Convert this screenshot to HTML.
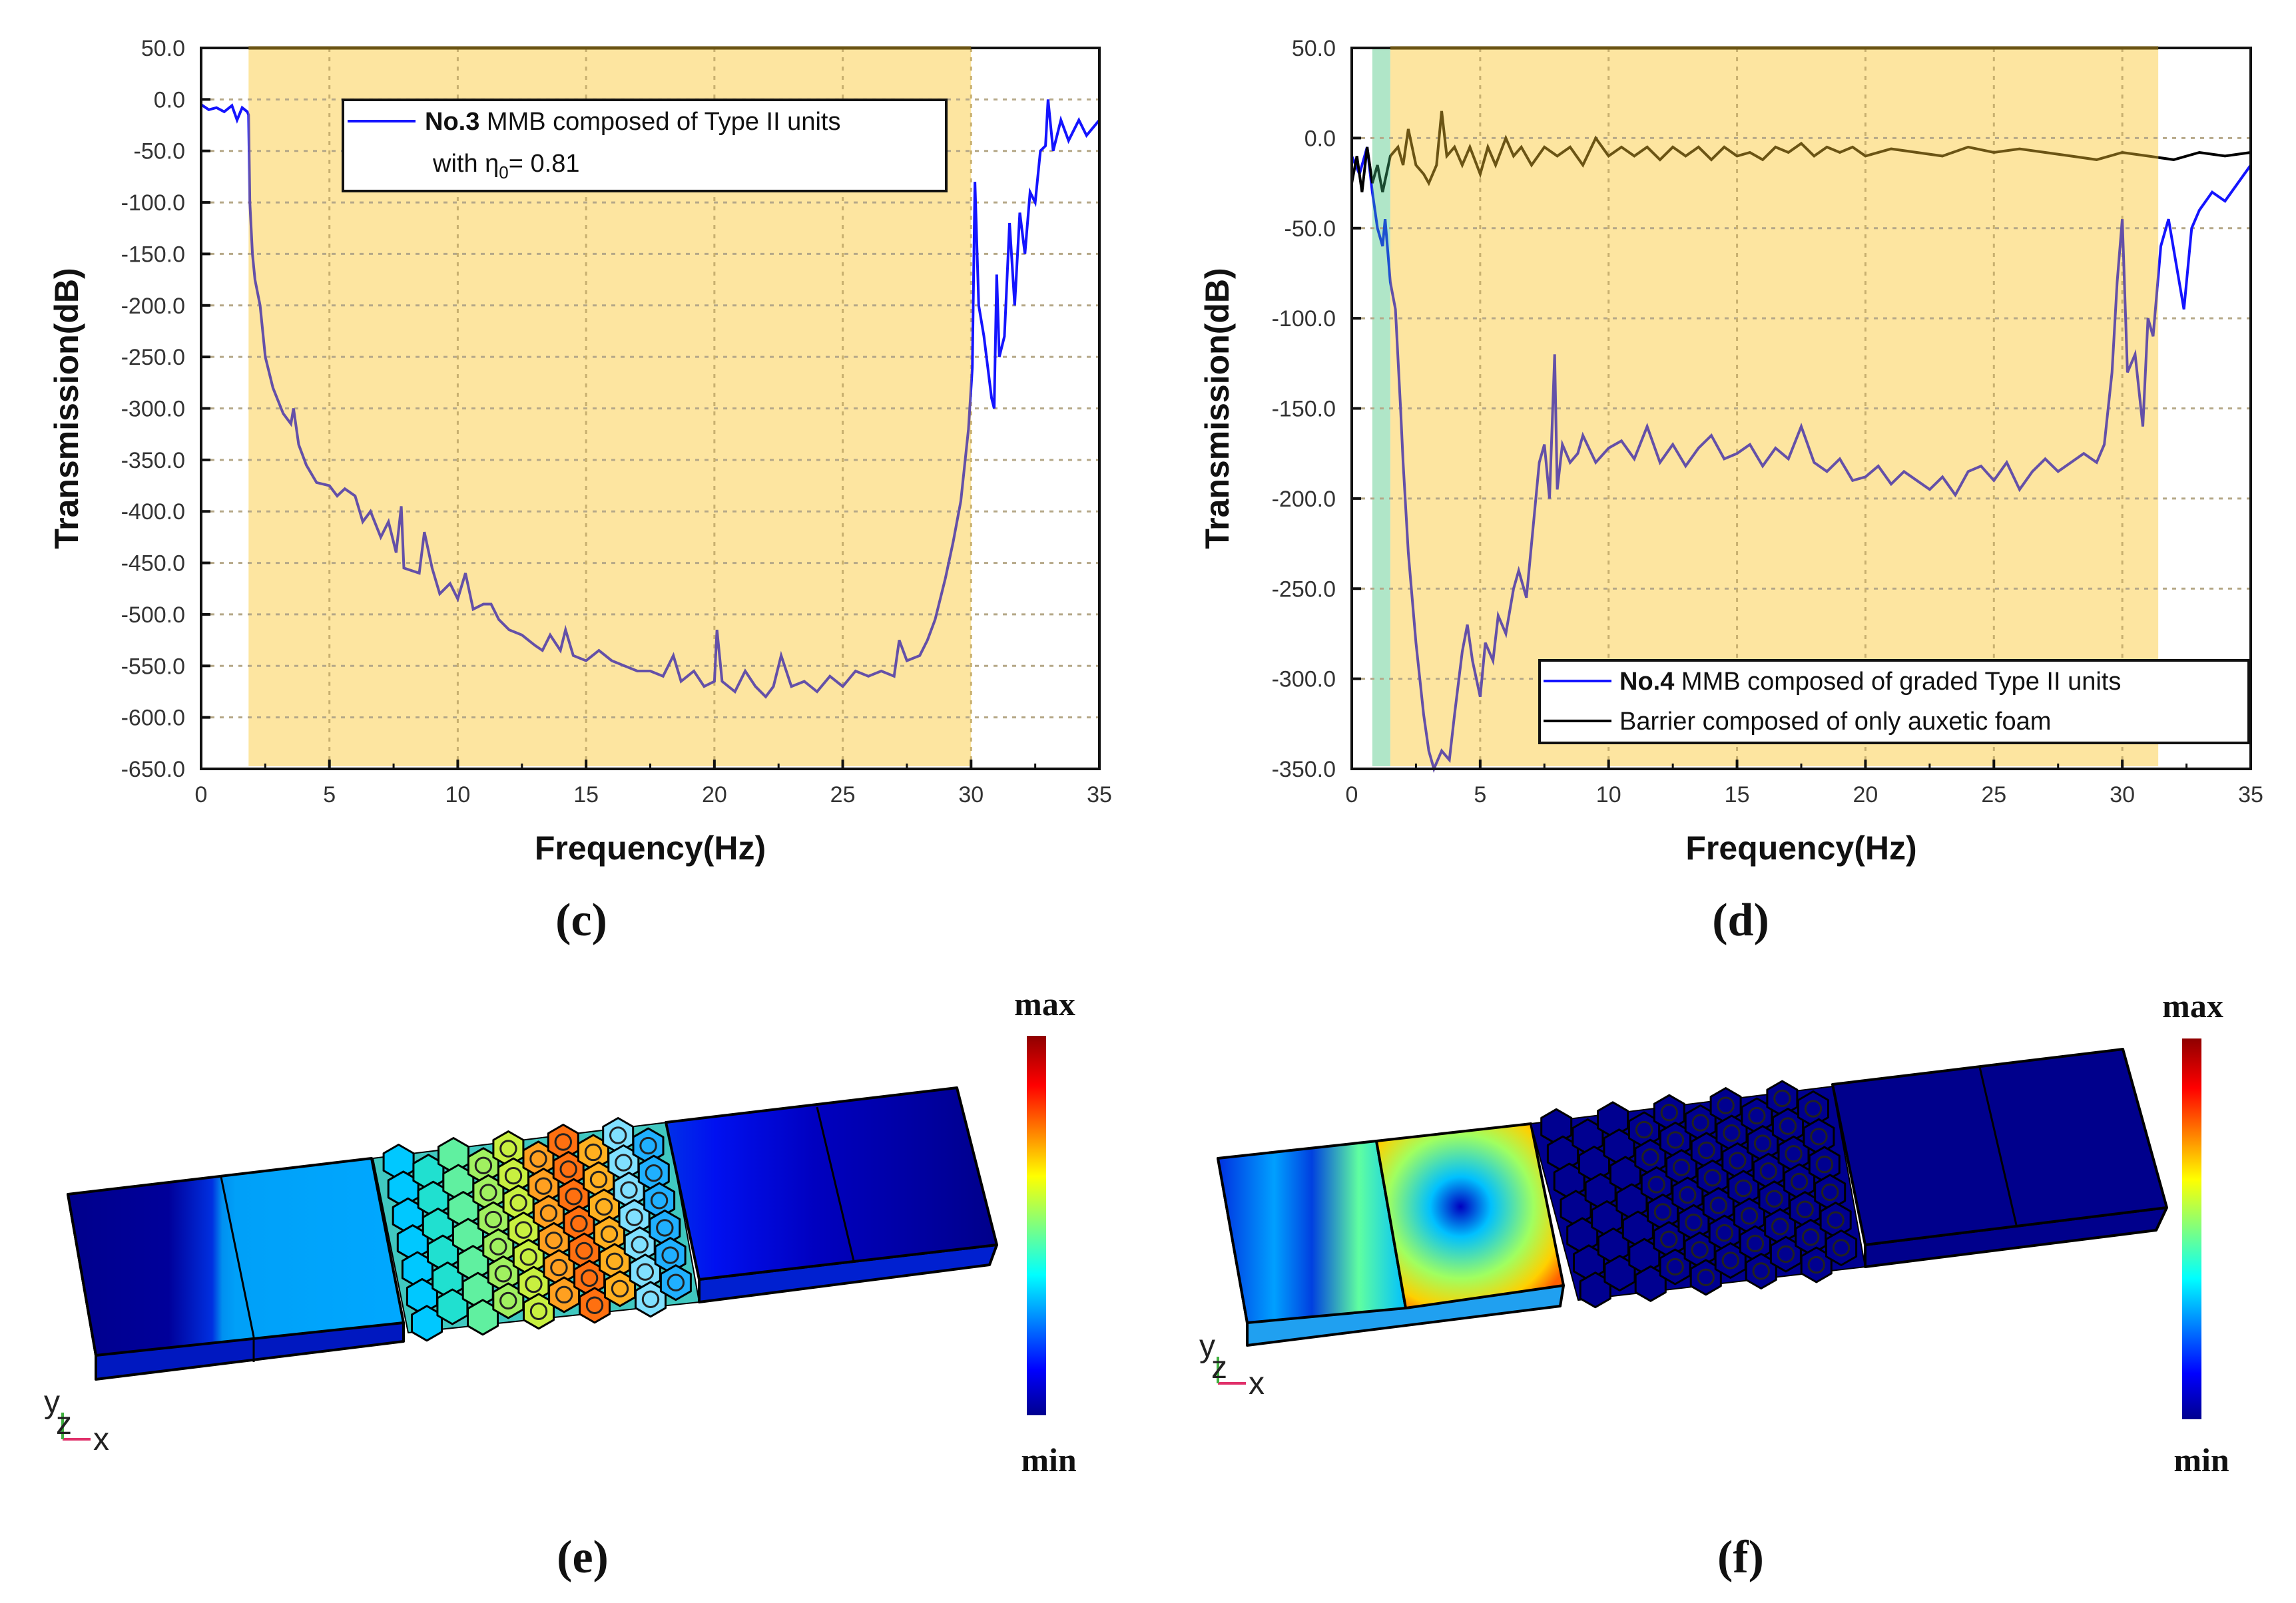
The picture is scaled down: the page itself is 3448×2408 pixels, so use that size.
<!DOCTYPE html>
<html><head><meta charset="utf-8">
<style>
html,body{margin:0;padding:0;background:#fff;}
svg{display:block;}
text{font-family:"Liberation Sans",sans-serif;}
.tick{font-size:34px;fill:#333;}
.ttl{font-size:50px;font-weight:bold;fill:#111;}
.cap{font-family:"Liberation Serif",serif;font-size:70px;font-weight:bold;fill:#111;}
.leg{font-size:38px;fill:#111;}
.mm{font-family:"Liberation Serif",serif;font-size:50px;font-weight:bold;fill:#111;}
</style></head>
<body>
<svg id="root" width="3448" height="2408" viewBox="0 0 3448 2408" xmlns="http://www.w3.org/2000/svg">
<defs>
<linearGradient id="jet" x1="0" y1="1" x2="0" y2="0">
<stop offset="0" stop-color="#00008f"/><stop offset="0.12" stop-color="#0000ff"/><stop offset="0.37" stop-color="#00ffff"/><stop offset="0.5" stop-color="#7fff7f"/><stop offset="0.63" stop-color="#ffff00"/><stop offset="0.87" stop-color="#ff0000"/><stop offset="1" stop-color="#8f0000"/>
</linearGradient>
<linearGradient id="eLeft" x1="0" y1="0" x2="1" y2="0">
<stop offset="0" stop-color="#00008c"/><stop offset="0.3" stop-color="#00009a"/><stop offset="0.43" stop-color="#0030e0"/><stop offset="0.46" stop-color="#0090f0"/><stop offset="0.5" stop-color="#00a0f8"/><stop offset="1" stop-color="#00a8ff"/>
</linearGradient>
<linearGradient id="eRight" x1="0" y1="0" x2="1" y2="0">
<stop offset="0" stop-color="#0030e8"/><stop offset="0.15" stop-color="#0010f0"/><stop offset="0.45" stop-color="#0000c0"/><stop offset="1" stop-color="#00008a"/>
</linearGradient>
<linearGradient id="fL1" x1="0" y1="0" x2="1" y2="0">
<stop offset="0" stop-color="#0030e0"/><stop offset="0.3" stop-color="#00a0ff"/><stop offset="0.5" stop-color="#0040e0"/><stop offset="0.75" stop-color="#60ffa0"/><stop offset="1" stop-color="#00c0ff"/>
</linearGradient>
<radialGradient id="fL2" cx="0.45" cy="0.45" r="0.65">
<stop offset="0" stop-color="#0000c0"/><stop offset="0.25" stop-color="#00c0ff"/><stop offset="0.6" stop-color="#a0ff60"/><stop offset="0.85" stop-color="#ffd000"/><stop offset="1" stop-color="#ff6000"/>
</radialGradient>
</defs>
<g id="chartC"></g>
<g id="chartD"></g>
<g id="panelE"></g>
<g id="panelF"></g>
</svg>
<script>
// ---- chart (c) data ----
const cFreq = [0,0.3,0.6,0.9,1.2,1.4,1.6,1.8,1.85,1.9,2.0,2.1,2.3,2.5,2.8,3.2,3.5,3.6,3.8,4.1,4.5,5,5.3,5.6,6,6.3,6.6,7,7.3,7.6,7.8,7.9,8.5,8.7,9,9.3,9.7,10,10.3,10.6,11,11.3,11.6,12,12.5,13,13.3,13.6,14,14.2,14.5,15,15.5,16,16.5,17,17.5,18,18.4,18.7,19.2,19.6,20,20.1,20.3,20.8,21.2,21.6,22,22.3,22.6,23,23.5,24,24.5,25,25.5,26,26.5,27,27.2,27.5,28,28.3,28.6,29,29.3,29.6,29.9,30.05,30.15,30.3,30.5,30.8,30.9,31,31.1,31.3,31.5,31.7,31.9,32.1,32.3,32.5,32.7,32.9,33.0,33.2,33.5,33.8,34.2,34.5,35];
const cVal = [-5,-10,-8,-12,-6,-20,-8,-12,-15,-100,-150,-175,-200,-250,-280,-305,-315,-300,-335,-355,-372,-375,-385,-378,-385,-410,-400,-425,-410,-440,-395,-455,-460,-420,-455,-480,-470,-485,-460,-495,-490,-490,-505,-515,-520,-530,-535,-520,-535,-515,-540,-545,-535,-545,-550,-555,-555,-560,-540,-565,-555,-570,-565,-515,-565,-575,-555,-570,-580,-570,-540,-570,-565,-575,-560,-570,-555,-560,-555,-560,-525,-545,-540,-525,-505,-465,-430,-390,-320,-260,-80,-200,-230,-290,-300,-170,-250,-230,-120,-200,-110,-150,-90,-100,-50,-45,0,-50,-20,-40,-20,-35,-20];
const cYTicks = [50,0,-50,-100,-150,-200,-250,-300,-350,-400,-450,-500,-550,-600,-650];
const cXTicks = [0,5,10,15,20,25,30,35];
const cBand = [1.85,30];
// ---- chart (d) data ----
const dFreq = [0,0.3,0.6,0.8,1.0,1.2,1.3,1.5,1.7,1.9,2.0,2.2,2.5,2.8,3.0,3.2,3.5,3.8,4.0,4.3,4.5,4.7,5.0,5.2,5.5,5.7,6.0,6.3,6.5,6.8,7.0,7.3,7.5,7.7,7.9,8.0,8.2,8.5,8.8,9.0,9.5,10,10.5,11,11.5,12,12.5,13,13.5,14,14.5,15,15.5,16,16.5,17,17.5,18,18.5,19,19.5,20,20.5,21,21.5,22,22.5,23,23.5,24,24.5,25,25.5,26,26.5,27,27.5,28,28.5,29,29.3,29.6,29.8,30,30.2,30.5,30.8,31,31.2,31.5,31.8,32.1,32.4,32.7,33,33.5,34,34.5,35];
const dBlue = [-10,-20,-5,-30,-50,-60,-45,-80,-95,-150,-180,-230,-280,-320,-340,-350,-340,-345,-320,-285,-270,-290,-310,-280,-290,-265,-275,-250,-240,-255,-225,-180,-170,-200,-120,-195,-170,-180,-175,-165,-180,-172,-168,-178,-160,-180,-170,-182,-172,-165,-178,-175,-170,-182,-172,-178,-160,-180,-185,-178,-190,-188,-182,-192,-185,-190,-195,-188,-198,-185,-182,-190,-180,-195,-185,-178,-185,-180,-175,-180,-170,-130,-80,-45,-130,-120,-160,-100,-110,-60,-45,-70,-95,-50,-40,-30,-35,-25,-15];
const dFoamFreq = [0,0.2,0.4,0.6,0.8,1.0,1.2,1.5,1.8,2.0,2.2,2.5,2.8,3.0,3.3,3.5,3.7,4.0,4.3,4.6,5.0,5.3,5.6,6.0,6.3,6.6,7.0,7.5,8.0,8.5,9.0,9.5,10,10.5,11,11.5,12,12.5,13,13.5,14,14.5,15,15.5,16,16.5,17,17.5,18,18.5,19,19.5,20,21,22,23,24,25,26,27,28,29,30,31,32,33,34,35];
const dFoam = [-25,-10,-30,-5,-25,-15,-30,-10,-5,-15,5,-15,-20,-25,-15,15,-10,-5,-15,-5,-20,-5,-15,0,-10,-5,-15,-5,-10,-5,-15,0,-10,-5,-10,-5,-12,-5,-10,-5,-12,-5,-10,-8,-12,-5,-8,-3,-10,-5,-8,-5,-10,-6,-8,-10,-5,-8,-6,-8,-10,-12,-8,-10,-12,-8,-10,-8];
const dYTicks = [50,0,-50,-100,-150,-200,-250,-300,-350];
const dXTicks = [0,5,10,15,20,25,30,35];
const dBand = [1.5,31.4];
const dGreen = [0.8,1.5];

const NS='http://www.w3.org/2000/svg';
function mk(parent,tag,attrs,txt){const e=document.createElementNS(NS,tag);for(const k in attrs)e.setAttribute(k,attrs[k]);if(txt!==undefined)e.textContent=txt;parent.appendChild(e);return e;}
let clipN=0;
function drawChart(g,opt){
  const {L,R,T,B,xmin,xmax,ymin,ymax}=opt;
  const X=f=>L+(f-xmin)/(xmax-xmin)*(R-L);
  const Y=v=>T+(ymax-v)/(ymax-ymin)*(B-T);
  const defs=document.querySelector('defs');
  const bx=X(opt.band[0]), bw=X(opt.band[1])-X(opt.band[0]);
  const b=mk(g,'rect',{x:bx,y:T,width:bw,height:B-T-4,fill:'#fde5a0'});
  
  
  let gx=bx,gw=0;
  if(opt.green){gx=X(opt.green[0]);gw=X(opt.green[1])-gx;
    const r=mk(g,'rect',{x:gx,y:T,width:gw,height:B-T-4,fill:'#b0e6c8'});
    
    }
  opt.yTicks.forEach(v=>{const l=mk(g,'line',{x1:L,x2:R,y1:Y(v),y2:Y(v),stroke:'#b5a888','stroke-width':3,'stroke-dasharray':'6,8'});
    
    });
  opt.xTicks.forEach(v=>{const l=mk(g,'line',{x1:X(v),x2:X(v),y1:T,y2:B,stroke:'#c8b070','stroke-width':3,'stroke-dasharray':'6,8'});
    
    });
  const id=++clipN;
  const cpB=mk(defs,'clipPath',{id:'cb'+id}); mk(cpB,'rect',{x:bx,y:0,width:bw,height:2408});
  const cpO=mk(defs,'clipPath',{id:'co'+id});
  mk(cpO,'rect',{x:0,y:0,width:gx,height:2408});
  mk(cpO,'rect',{x:bx+bw,y:0,width:3448,height:2408});
  let cpG=null;
  if(opt.green){cpG=mk(defs,'clipPath',{id:'cg'+id}); mk(cpG,'rect',{x:gx,y:0,width:gw,height:2408});}
  opt.series.forEach(s=>{
    const pts=s.f.map((f,i)=>X(f).toFixed(1)+','+Y(Math.max(ymin,s.v[i])).toFixed(1)).join(' ');
    const p=mk(g,'polyline',{points:pts,fill:'none',stroke:s.color,'stroke-width':4,'clip-path':'url(#co'+id+')'});
    
    
    const q=mk(g,'polyline',{points:pts,fill:'none',stroke:s.inColor,'stroke-width':4,'clip-path':'url(#cb'+id+')'});
    
    
    if(cpG){
      const w=mk(g,'polyline',{points:pts,fill:'none',stroke:s.gColor,'stroke-width':4,'clip-path':'url(#cg'+id+')'});
      
      
    }
  });
  const fr=mk(g,'rect',{x:L,y:T,width:R-L,height:B-T,fill:'none',stroke:'#111','stroke-width':4});
  
  
  mk(g,'line',{x1:bx,x2:bx+bw,y1:T,y2:T,stroke:'#6b5414','stroke-width':5});
  opt.yTicks.forEach(v=>{
    mk(g,'line',{x1:L,x2:L+14,y1:Y(v),y2:Y(v),stroke:'#111','stroke-width':4});
    const t=mk(g,'text',{x:L-24,y:Y(v)+12,'text-anchor':'end',class:'tick'},v.toFixed(1));
    
    
  });
  opt.xTicks.forEach(v=>{
    mk(g,'line',{x1:X(v),x2:X(v),y1:B,y2:B-14,stroke:'#111','stroke-width':4});
    if(v<xmax) mk(g,'line',{x1:X(v+2.5),x2:X(v+2.5),y1:B,y2:B-8,stroke:'#111','stroke-width':3});
    const t=mk(g,'text',{x:X(v),y:B+50,'text-anchor':'middle',class:'tick'},String(v));
    
    
  });
  const yt=mk(g,'text',{x:0,y:0,transform:`translate(${L-185},${(T+B)/2}) rotate(-90)`,'text-anchor':'middle',class:'ttl'},'Transmission(dB)');
  
  
  const xt=mk(g,'text',{x:(L+R)/2,y:B+136,'text-anchor':'middle',class:'ttl'},'Frequency(Hz)');
  
  
}

const gc=document.getElementById('chartC');
drawChart(gc,{L:302,R:1651,T:72,B:1155,xmin:0,xmax:35,ymin:-650,ymax:50,yTicks:cYTicks,xTicks:cXTicks,band:cBand,
  series:[{f:cFreq,v:cVal,color:'#1414ff',inColor:'#6450a8',name:'no3-series-line'}]});
const gd=document.getElementById('chartD');
drawChart(gd,{L:2030,R:3380,T:72,B:1155,xmin:0,xmax:35,ymin:-350,ymax:50,yTicks:dYTicks,xTicks:dXTicks,band:dBand,green:dGreen,
  series:[{f:dFreq,v:dBlue,color:'#1414ff',inColor:'#6450a8',gColor:'#1c50d0',name:'no4-series-line'},{f:dFoamFreq,v:dFoam,color:'#000',inColor:'#6b5414',gColor:'#1a4a30',name:'auxetic-foam-series-line'}]});

(function(){
  const g=mk(gc,'g',{});
  
  
  mk(g,'rect',{x:515,y:150,width:906,height:137,fill:'#fff',stroke:'#111','stroke-width':4});
  mk(g,'line',{x1:522,x2:624,y1:182,y2:182,stroke:'#1414ff','stroke-width':4});
  const t=mk(g,'text',{x:638,y:195,class:'leg'});
  mk(t,'tspan',{'font-weight':'bold'},'No.3');
  mk(t,'tspan',{},' MMB composed of Type II units');
  const t2=mk(g,'text',{x:650,y:258,class:'leg'},'with η');
  mk(t2,'tspan',{'font-size':'26px',dy:'10'},'0');
  mk(t2,'tspan',{dy:'-10'},'= 0.81');
})();
(function(){
  const g=mk(gd,'g',{});
  
  
  mk(g,'rect',{x:2312,y:992,width:1065,height:124,fill:'#fff',stroke:'#111','stroke-width':4});
  mk(g,'line',{x1:2318,x2:2420,y1:1023,y2:1023,stroke:'#1414ff','stroke-width':4});
  mk(g,'line',{x1:2318,x2:2420,y1:1083,y2:1083,stroke:'#000','stroke-width':4});
  const t=mk(g,'text',{x:2432,y:1036,class:'leg'});
  mk(t,'tspan',{'font-weight':'bold'},'No.4');
  mk(t,'tspan',{},' MMB composed of graded Type II units');
  mk(g,'text',{x:2432,y:1096,class:'leg'},'Barrier composed of only auxetic foam');
})();

const root=document.getElementById('root');
[['(c)',873,1405,'caption-c'],['(d)',2614,1405,'caption-d'],['(e)',875,2362,'caption-e'],['(f)',2614,2362,'caption-f']].forEach(c=>{
  const t=mk(root,'text',{x:c[1],y:c[2],'text-anchor':'middle',class:'cap'},c[0]);
  
  
});

function poly(g,pts,fill,name,sw){const p=mk(g,'polygon',{points:pts.map(p=>p.join(',')).join(' '),fill:fill,stroke:'#000','stroke-width':sw||4,'stroke-linejoin':'round'});
  
  return p;}
function lerp(a,b,t){return [a[0]+(b[0]-a[0])*t,a[1]+(b[1]-a[1])*t];}
function hexGrid(g,TL,TR,BL,BR,cols,rows,r,colorFn,rings){
  for(let c=0;c<cols;c++){for(let rw=0;rw<rows+1;rw++){
    const u=(c+0.5)/cols, v=(rw+(c%2?0.5:0))/rows;
    if(v>1.0)continue;
    const top=lerp(TL,TR,u), bot=lerp(BL,BR,u), ctr=lerp(top,bot,v);
    const pts=[];for(let k=0;k<6;k++){const a=Math.PI/3*k+Math.PI/6;pts.push([(ctr[0]+r*Math.cos(a)).toFixed(1),(ctr[1]+r*Math.sin(a)).toFixed(1)]);}
    poly(g,pts,colorFn(u,v),'hex-cell',3);
    if(rings&&u>0.3) mk(g,'circle',{cx:ctr[0],cy:ctr[1],r:r*0.45,fill:'none',stroke:'#222','stroke-width':3});
  }}
}
function colorbar(g,x,y,w,h,mx,my,nx,ny){
  const r=mk(g,'rect',{x:x,y:y,width:w,height:h,fill:'url(#jet)'});
  
  
  const a=mk(g,'text',{x:mx,y:my,'text-anchor':'middle',class:'mm'},'max');
  
  
  const b=mk(g,'text',{x:nx,y:ny,'text-anchor':'middle',class:'mm'},'min');
  
  
}
function triad(g,x,y){
  const t=mk(g,'g',{});
  
  
  mk(t,'line',{x1:x+28,y1:y+70,x2:x+70,y2:y+70,stroke:'#e0306a','stroke-width':4});
  mk(t,'line',{x1:x+28,y1:y+70,x2:x+28,y2:y+30,stroke:'#40b040','stroke-width':4});
  mk(t,'text',{x:x,y:y+30,'font-size':'48px',fill:'#222'},'y');
  mk(t,'text',{x:x+18,y:y+62,'font-size':'48px',fill:'#222'},'z');
  mk(t,'text',{x:x+74,y:y+86,'font-size':'48px',fill:'#222'},'x');
}
(function(){
  const g=document.getElementById('panelE');
  poly(g,[[102,1794],[144,2036],[144,2072],[606,2015],[606,1987]],'#0018c0','left-blocks-bottom-face');
  poly(g,[[102,1794],[558,1740],[606,1987],[144,2036]],'url(#eLeft)','left-blocks-front-face');
  mk(g,'line',{x1:332,y1:1768,x2:381,y2:2008,stroke:'#000','stroke-width':3});
  mk(g,'line',{x1:381,y1:2008,x2:381,y2:2046,stroke:'#000','stroke-width':3});
  poly(g,[[560,1740],[1002,1686],[1050,1956],[613,2002]],'#40c8c0','honeycomb-region',2);
  const cols=['#00c8ff','#20e0d0','#60f0a0','#a0f060','#c8f040','#ffa020','#ff7010','#ffb020','#80e0ff','#20b0ff'];
  hexGrid(g,[578,1748],[990,1698],[620,1990],[1040,1945],10,6,26,(u,v)=>cols[Math.min(9,Math.floor(u*10))],true);
  poly(g,[[1050,1922],[1050,1956],[1486,1900],[1497,1870]],'#0020d0','right-blocks-bottom-face');
  poly(g,[[1000,1686],[1437,1634],[1497,1870],[1050,1922]],'url(#eRight)','right-blocks-front-face');
  mk(g,'line',{x1:1227,y1:1663,x2:1282,y2:1894,stroke:'#000','stroke-width':3});
  colorbar(g,1542,1556,29,570,1569,1525,1575,2210);
  triad(g,66,2092);
})();
(function(){
  const g=document.getElementById('panelF');
  poly(g,[[1829,1740],[1873,1987],[1873,2021],[2343,1962],[2348,1931]],'#20a0f0','left-blocks-bottom-face');
  poly(g,[[1829,1740],[2067,1714],[2111,1965],[1873,1987]],'url(#fL1)','left-block-1-face');
  poly(g,[[2067,1714],[2299,1688],[2348,1931],[2111,1965]],'url(#fL2)','left-block-2-face');
  poly(g,[[2299,1688],[2752,1632],[2801,1903],[2370,1953]],'#00008f','honeycomb-region',2);
  hexGrid(g,[2316,1695],[2740,1642],[2375,1940],[2790,1893],10,6,26,()=>'#000090',true);
  poly(g,[[2801,1870],[2801,1903],[3238,1848],[3254,1814]],'#00008c','right-blocks-bottom-face');
  poly(g,[[2752,1629],[3188,1576],[3254,1814],[2801,1870]],'#00008c','right-blocks-front-face');
  mk(g,'line',{x1:2973,y1:1603,x2:3028,y2:1840,stroke:'#000','stroke-width':3});
  colorbar(g,3277,1560,29,572,3293,1528,3306,2210);
  triad(g,1801,2008);
})();
</script>
</body></html>
